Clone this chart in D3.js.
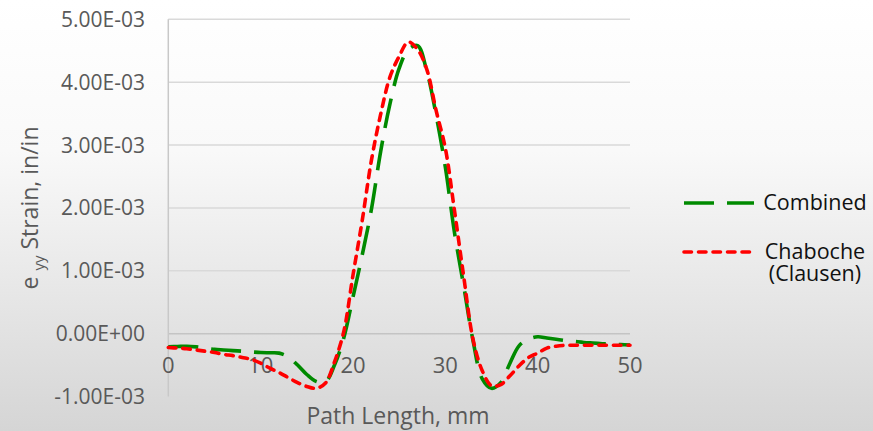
<!DOCTYPE html>
<html>
<head>
<meta charset="utf-8">
<script src="https://cdn.jsdelivr.net/npm/d3@7"></script>
<style>
	html, body { margin: 0; padding: 0; }
	svg { display: block; }
</style>
</head>
<body>
<div id="chart"></div>
<script>
// path length, mm
var pathLength = [0,1,2,3,4,5,6,7,8,9,10,11,12,13,14,15,16,17,18,19,20,21,22,23,24,25,
	26,27,28,29,30,31,32,33,34,35,36,37,38,39,40,41,42,43,44,45,46,47,48,49,50];

// strain values, x1e-3 in/in
var combined = [-0.21,-0.205,-0.20,-0.21,-0.23,-0.25,-0.26,-0.27,-0.28,-0.29,-0.30,-0.305,-0.31,-0.37,-0.50,
	-0.65,-0.76,-0.77,-0.50,-0.07,0.58,1.25,1.98,2.90,3.65,4.22,4.52,4.58,4.17,3.48,2.65,1.60,0.75,-0.11,
	-0.72,-0.87,-0.78,-0.47,-0.19,-0.09,-0.05,-0.07,-0.09,-0.11,-0.125,-0.14,-0.15,-0.16,-0.17,-0.175,-0.18];

var chaboche = [-0.22,-0.23,-0.24,-0.26,-0.28,-0.30,-0.33,-0.35,-0.38,-0.41,-0.47,-0.55,-0.62,-0.70,-0.78,
	-0.84,-0.87,-0.79,-0.45,0.03,0.93,1.80,2.76,3.49,4.08,4.41,4.64,4.52,4.20,3.55,2.95,1.95,0.90,-0.09,
	-0.59,-0.83,-0.81,-0.67,-0.51,-0.38,-0.31,-0.23,-0.20,-0.185,-0.185,-0.185,-0.185,-0.185,-0.185,-0.185,-0.185];

var xTicks = [0, 10, 20, 30, 40, 50];
var yTicks = [-1e-3, 0, 1e-3, 2e-3, 3e-3, 4e-3, 5e-3];

var seriesNames = ['Combined', 'Chaboche'];

(function() {
	var width = 873,
		height = 431,
		plotLeft = 168.3,
		plotRight = 630,
		plotTop = 19.3,
		plotBottom = 396.5,
		font = '"Open Sans", "Liberation Sans", sans-serif';

	var svg = d3.select('#chart').append('svg')
		.attr('width', width)
		.attr('height', height);

	// background gradient, white to light grey
	var grad = svg.append('defs').append('linearGradient')
		.attr('id', 'bg')
		.attr('x1', 0).attr('y1', 0)
		.attr('x2', 0).attr('y2', 1);
	grad.append('stop').attr('offset', '0%').attr('stop-color', '#ffffff');
	grad.append('stop').attr('offset', '35%').attr('stop-color', '#f9f9f9');
	grad.append('stop').attr('offset', '100%').attr('stop-color', '#d5d5d5');

	svg.append('rect')
		.attr('width', width)
		.attr('height', height)
		.attr('fill', 'url(#bg)');

	var x = d3.scaleLinear().domain([0, 50]).range([plotLeft, plotRight]);
	var y = d3.scaleLinear().domain([-1e-3, 5e-3]).range([plotBottom, plotTop]);

	//Gridlines
	svg.append('g')
		.selectAll('line')
		.data(yTicks)
		.enter().append('line')
		.attr('x1', plotLeft)
		.attr('x2', plotRight)
		.attr('y1', function(d) { return y(d); })
		.attr('y2', function(d) { return y(d); })
		.attr('stroke', function(d) { return d === 0 ? '#c4c4c4' : '#d9d9d9'; })
		.attr('stroke-width', 1.5);

	//Vertical axis line
	svg.append('line')
		.attr('x1', plotLeft).attr('x2', plotLeft)
		.attr('y1', plotTop).attr('y2', plotBottom)
		.attr('stroke', '#c8c8c8')
		.attr('stroke-width', 1.5);

	//Y tick labels
	svg.append('g')
		.selectAll('text')
		.data(yTicks)
		.enter().append('text')
		.attr('x', 145)
		.attr('y', function(d) { return y(d); })
		.attr('dy', '0.36em')
		.attr('text-anchor', 'end')
		.attr('font-family', font)
		.attr('font-size', 21)
		.attr('fill', '#595959')
		.text(function(d) {
			var s = d.toExponential(2).toUpperCase();
			// Excel style: 5.00E-03
			return s.replace(/E([+-])(\d)$/, 'E$10$2');
		});

	//X tick labels, sitting under the zero line
	svg.append('g')
		.selectAll('text')
		.data(xTicks)
		.enter().append('text')
		.attr('x', function(d) { return x(d); })
		.attr('y', 365)
		.attr('dy', '0.36em')
		.attr('text-anchor', 'middle')
		.attr('font-family', font)
		.attr('font-size', 22)
		.attr('fill', '#595959')
		.text(function(d) { return d; });

	//Axis titles
	svg.append('text')
		.attr('x', 398)
		.attr('y', 416)
		.attr('dy', '0.36em')
		.attr('text-anchor', 'middle')
		.attr('font-family', font)
		.attr('font-size', 23)
		.attr('fill', '#595959')
		.text('Path Length, mm');

	var yTitle = svg.append('text')
		.attr('transform', 'translate(38,208) rotate(-90)')
		.attr('text-anchor', 'middle')
		.attr('font-family', font)
		.attr('font-size', 23)
		.attr('fill', '#595959');
	yTitle.append('tspan').text('e ');
	yTitle.append('tspan').attr('font-size', 15).attr('dy', 6).text('yy');
	yTitle.append('tspan').attr('dy', -6).text(' Strain, in/in');

	var line = d3.line()
		.x(function(d) { return x(d[0]); })
		.y(function(d) { return y(d[1] * 1e-3); })
		.curve(d3.curveCatmullRom.alpha(0.5));

	var styles = {
		Combined: { color: '#008a00', dash: '30,13', cap: 'butt' },
		Chaboche: { color: '#ff0000', dash: '7.5,7', cap: 'round' }
	};

	var seriesData = {
		Combined: d3.zip(pathLength, combined),
		Chaboche: d3.zip(pathLength, chaboche)
	};

	seriesNames.forEach(function(name) {
		svg.append('path')
			.datum(seriesData[name])
			.attr('d', line)
			.attr('fill', 'none')
			.attr('stroke', styles[name].color)
			.attr('stroke-width', 3.6)
			.attr('stroke-dasharray', styles[name].dash)
			.attr('stroke-linecap', styles[name].cap);
	});

	//Legend, one text per row
	var legendItems = [
		{ name: 'Combined', y: 203, lines: ['Combined'] },
		{ name: 'Chaboche', y: 252, lines: ['Chaboche', '(Clausen)'] }
	];

	var legend = svg.append('g');
	legendItems.forEach(function(item) {
		legend.append('line')
			.attr('x1', 684).attr('x2', 754)
			.attr('y1', item.y).attr('y2', item.y)
			.attr('stroke', styles[item.name].color)
			.attr('stroke-width', 3.6)
			.attr('stroke-dasharray', styles[item.name].dash)
			.attr('stroke-linecap', styles[item.name].cap);
		item.lines.forEach(function(txt, i) {
			legend.append('text')
				.attr('x', 815)
				.attr('y', item.y + i * 22)
				.attr('dy', '0.34em')
				.attr('text-anchor', 'middle')
				.attr('font-family', font)
				.attr('font-size', 21.5)
				.attr('fill', '#111')
				.text(txt);
		});
	});
})();
</script>
</body>
</html>
